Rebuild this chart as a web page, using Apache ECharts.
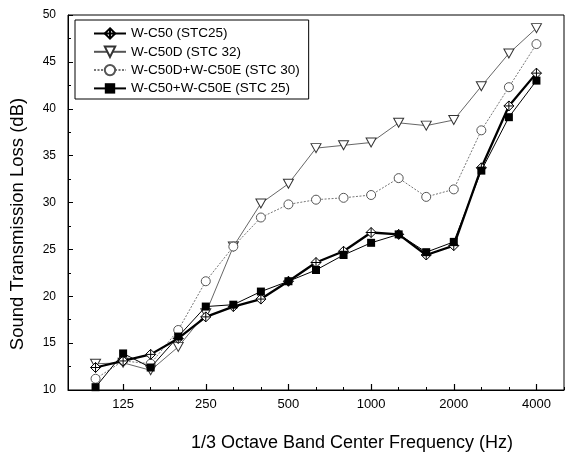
<!DOCTYPE html>
<html>
<head>
<meta charset="utf-8">
<script src="https://cdn.jsdelivr.net/npm/echarts@6/dist/echarts.min.js"></script>
<style>html,body{margin:0;padding:0;background:#fff}#c{width:566px;height:463px}</style>
</head>
<body>
<div id="c"></div>
<script>
// 1/3 octave band centre frequencies (Hz)
var freqs = ['100','125','160','200','250','315','400','500','630','800','1000','1250','1600','2000','2500','3150','4000'];
var tickLabels = ['125','250','500','1000','2000','4000'];
var seriesNames = ['W-C50 (STC25)', 'W-C50D (STC 32)', 'W-C50D+W-C50E (STC 30)', 'W-C50+W-C50E (STC 25)'];
var wC50      = [12.4, 13.1, 13.8, 15.5, 17.8, 18.9, 19.7, 21.6, 23.6, 24.8, 26.8, 26.6, 24.4, 25.4, 33.7, 40.3, 43.8];
var wC50D     = [12.8, 12.9, 12.1, 14.6, 18.2, 25.3, 29.9, 32.0, 35.8, 36.1, 36.4, 38.5, 38.2, 38.8, 42.4, 45.9, 48.6];
var wC50D_E   = [11.2, 13.1, 12.8, 16.4, 21.6, 25.3, 28.4, 29.8, 30.3, 30.5, 30.8, 32.6, 30.6, 31.4, 37.7, 42.3, 46.9];
var wC50_E    = [10.3, 13.9, 12.4, 15.7, 18.9, 19.1, 20.5, 21.6, 22.8, 24.4, 25.7, 26.6, 24.7, 25.8, 33.4, 39.1, 43.0];

// padded category list: one empty slot at each end
var cats = [''].concat(freqs).concat(['']);
function pad(arr){ return [null].concat(arr).concat([null]); }
function isMajor(i, v){ return tickLabels.indexOf(v) >= 0; }

var font = '"Liberation Sans", Arial, Helvetica, sans-serif';
var chart = echarts.init(document.getElementById('c'), null, {renderer: 'canvas'});
var gridBox = {left: 68, right: 2, top: 15, bottom: 73};

chart.setOption({
  animation: false,
  backgroundColor: '#fff',
  grid: [
    Object.assign({show: true, borderColor: '#000', borderWidth: 1, containLabel: false}, gridBox),
    Object.assign({show: false, containLabel: false}, gridBox)
  ],
  legend: {
    orient: 'vertical',
    left: 75, top: 20,
    itemWidth: 32, itemHeight: 13, itemGap: 4.3,
    padding: [6.5, 9, 3.6, 18],
    borderColor: '#000', borderWidth: 1, borderRadius: 0,
    backgroundColor: '#fff',
    textStyle: {fontFamily: font, fontSize: 13.5, color: '#000'},
    data: seriesNames
  },
  xAxis: [{
    type: 'category', gridIndex: 0, data: cats, boundaryGap: false,
    axisLine: {lineStyle: {color: '#000', width: 1}},
    axisTick: {inside: true, length: 3, interval: 0, lineStyle: {color: '#000'}},
    axisLabel: {interval: isMajor, fontFamily: font, fontSize: 13, color: '#000', margin: 8},
    splitLine: {show: false}
  }, {
    type: 'category', gridIndex: 1, data: cats, boundaryGap: false,
    axisLine: {show: false},
    axisTick: {inside: true, length: 6, interval: isMajor, lineStyle: {color: '#000', width: 1.2}},
    axisLabel: {show: false},
    splitLine: {show: false}
  }],
  yAxis: [{
    type: 'value', gridIndex: 0, min: 10, max: 50, interval: 5,
    axisLine: {show: true, lineStyle: {color: '#000', width: 1}},
    axisTick: {show: true, inside: true, length: 5, lineStyle: {color: '#000'}},
    minorTick: {show: true, splitNumber: 2, length: 3, lineStyle: {color: '#000'}},
    axisLabel: {fontFamily: font, fontSize: 12, color: '#000', margin: 12},
    splitLine: {show: false}
  }, {
    type: 'value', gridIndex: 1, min: 10, max: 50, show: false
  }],
  graphic: [{
    type: 'text', x: 17.5, y: 224, rotation: Math.PI / 2,
    style: {text: 'Sound Transmission Loss (dB)', font: '18.5px ' + font, fill: '#000', align: 'center', verticalAlign: 'middle'}
  }, {
    type: 'text', x: 352, y: 443,
    style: {text: '1/3 Octave Band Center Frequency (Hz)', font: '18px ' + font, fill: '#000', align: 'center', verticalAlign: 'middle'}
  }],
  series: [{
    name: seriesNames[0], type: 'line', data: pad(wC50),
    symbol: 'path://M0,-10L10,0L0,10L-10,0Z M0,-10L0,10 M-10,0L10,0', symbolSize: 10,
    itemStyle: {color: '#fff', borderColor: '#000', borderWidth: 1},
    lineStyle: {color: '#000', width: 2.3}, z: 3
  }, {
    name: seriesNames[1], type: 'line', data: pad(wC50D),
    symbol: 'triangle', symbolRotate: 180, symbolSize: [10, 9],
    itemStyle: {color: '#fff', borderColor: '#333', borderWidth: 1},
    lineStyle: {color: '#555', width: 0.9}, z: 2
  }, {
    name: seriesNames[2], type: 'line', data: pad(wC50D_E),
    symbol: 'circle', symbolSize: 9,
    itemStyle: {color: '#fff', borderColor: '#555', borderWidth: 1},
    lineStyle: {color: '#777', width: 1, type: [2, 1.5]}, z: 2
  }, {
    name: seriesNames[3], type: 'line', data: pad(wC50_E),
    symbol: 'rect', symbolSize: 8,
    itemStyle: {color: '#000', borderColor: '#000', borderWidth: 0},
    lineStyle: {color: '#000', width: 1}, z: 4
  }]
});
</script>
</body>
</html>
